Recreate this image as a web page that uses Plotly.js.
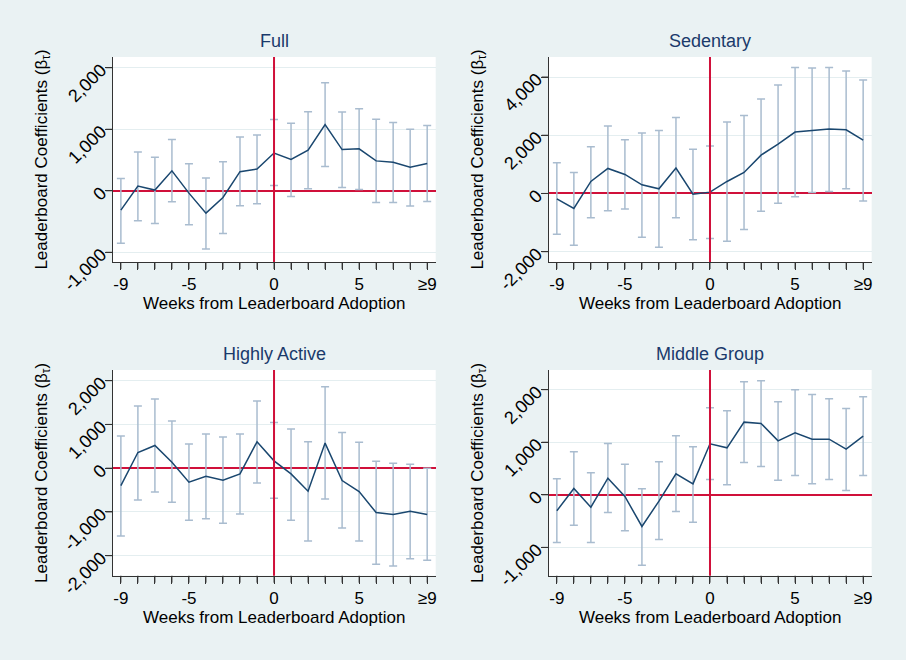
<!DOCTYPE html>
<html>
<head>
<meta charset="utf-8">
<script src="https://cdn.plot.ly/plotly-3.0.1.min.js"></script>
<style>
  body { margin: 0; background: #eaf2f3; }
  #chart { width: 906px; height: 660px; }
  .modebar-container { display: none; }
</style>
</head>
<body>
<div id="chart"></div>
<script>
// weeks relative to leaderboard adoption (9 means >= 9)
let weeks = [-9, -8, -7, -6, -5, -4, -3, -2, -1, 0, 1, 2, 3, 4, 5, 6, 7, 8, 9];
let weekLabels = ['-9', '', '', '', '-5', '', '', '', '', '0', '', '', '', '', '5', '', '', '', '\u22659'];

// Full
let fullCoef = [-314, 76, 11, 324, -38, -364, -109, 310, 353, 614, 508, 659, 1076, 670, 681, 486, 465, 384, 443];
let fullLow = [-854, -486, -530, -178, -554, -946, -696, -245, -212, 87, -92, 32, 395, 54, 22, -189, -189, -249, -173];
let fullHigh = [200, 632, 546, 832, 440, 207, 473, 875, 908, 1158, 1097, 1286, 1757, 1281, 1335, 1162, 1108, 1000, 1059];

// Sedentary
let sedCoef = [-183, -515, 412, 859, 653, 298, 160, 871, -23, 46, 412, 722, 1317, 1695, 2108, 2165, 2211, 2188, 1833];
let sedLow = [-1397, -1775, -836, -596, -538, -1500, -1844, -836, -1592, -1546, -1638, -1237, -607, -332, -115, 34, 69, 160, -263];
let sedHigh = [1054, 722, 1604, 2314, 1844, 2073, 2165, 2612, 1523, 1627, 2451, 2680, 3242, 3723, 4330, 4307, 4330, 4204, 3895];

// Highly Active
let highCoef = [-397, 359, 519, 137, -321, -183, -275, -130, 603, 168, -130, -527, 573, -282, -534, -1015, -1061, -985, -1061];
let highLow = [-1550, -725, -542, -779, -1191, -1153, -1260, -1046, -336, -687, -1191, -1664, -702, -1366, -1664, -2198, -2237, -2069, -2107];
let highHigh = [733, 1420, 1580, 1076, 550, 779, 710, 779, 1534, 1046, 893, 603, 1863, 817, 595, 160, 115, 92, 0];

// Middle Group
let midCoef = [-304, 120, -235, 317, -32, -602, -120, 400, 209, 970, 894, 1382, 1357, 1027, 1179, 1059, 1059, 869, 1116];
let midLow = [-907, -577, -907, -336, -685, -1338, -850, -317, -520, 292, 190, 615, 539, 279, 368, 209, 292, 82, 368];
let midHigh = [304, 818, 419, 977, 583, 114, 628, 1122, 913, 1655, 1598, 2150, 2169, 1769, 2000, 1909, 1826, 1642, 1864];

let panelTitles = ['Full', 'Sedentary', 'Highly Active', 'Middle Group'];
let yTicks = [
    [-1000, 0, 1000, 2000],
    [-2000, 0, 2000, 4000],
    [-2000, -1000, 0, 1000, 2000],
    [-1000, 0, 1000, 2000]
];
let yRanges = [[-1158, 2174], [-2355, 4687], [-2458, 2244], [-1539, 2374]];

let lineColor = '#1a476f';
let ciColor = '#a9bccf';
let refColor = '#d0103a';
let axisColor = '#333333';
let font = 'Liberation Sans, Arial, sans-serif';

let series = [
    [fullCoef, fullLow, fullHigh],
    [sedCoef, sedLow, sedHigh],
    [highCoef, highLow, highHigh],
    [midCoef, midLow, midHigh]
];

let xDomains = [[0.1244, 0.4809], [0.6056, 0.9621], [0.1244, 0.4809], [0.6056, 0.9621]];
let yDomains = [[0.603, 0.9136], [0.603, 0.9136], [0.1277, 0.4394], [0.1277, 0.4394]];

function fmt(v) {
    let s = Math.abs(v).toLocaleString('en-US');
    return v < 0 ? '-' + s : s;
}

let data = [];
let layout = {
    width: 906,
    height: 660,
    margin: {l: 0, r: 0, t: 0, b: 0},
    paper_bgcolor: '#eaf2f3',
    plot_bgcolor: '#ffffff',
    showlegend: false,
    font: {family: font, size: 17, color: '#000000'},
    annotations: [],
    shapes: []
};

series.forEach(function(s, i) {
    let n = i === 0 ? '' : String(i + 1);
    let coef = s[0], low = s[1], high = s[2];
    data.push({
        x: weeks,
        y: coef,
        type: 'scatter',
        mode: 'lines',
        xaxis: 'x' + n,
        yaxis: 'y' + n,
        line: {color: lineColor, width: 1.5},
        error_y: {
            type: 'data',
            symmetric: false,
            array: high.map(function(h, k) { return h - coef[k]; }),
            arrayminus: coef.map(function(c, k) { return c - low[k]; }),
            color: ciColor,
            thickness: 1.5,
            width: 4
        },
        hoverinfo: 'x+y'
    });

    layout['xaxis' + n] = {
        domain: xDomains[i],
        anchor: 'y' + n,
        range: [-9.48, 9.5],
        tickmode: 'array',
        tickvals: weeks,
        ticktext: weekLabels,
        ticks: 'outside',
        ticklen: 7,
        tickcolor: axisColor,
        showline: true,
        linecolor: axisColor,
        showgrid: false,
        zeroline: false,
        tickfont: {size: 17, color: '#000000'},
        title: {text: 'Weeks from Leaderboard Adoption', font: {size: 17}, standoff: 2}
    };
    layout['yaxis' + n] = {
        domain: yDomains[i],
        anchor: 'x' + n,
        range: yRanges[i],
        tickmode: 'array',
        tickvals: yTicks[i],
        ticktext: yTicks[i].map(fmt),
        tickangle: -45,
        ticks: 'outside',
        ticklen: 7,
        tickcolor: axisColor,
        showline: true,
        linecolor: axisColor,
        showgrid: true,
        gridcolor: '#e4eef0',
        zeroline: true,
        zerolinecolor: refColor,
        zerolinewidth: 2,
        tickfont: {size: 18, color: '#000000'},
        title: {text: 'Leaderboard Coefficients (\u03b2<sub>\u03c4</sub>)', font: {size: 17}, standoff: 8}
    };

    layout.annotations.push({
        text: panelTitles[i],
        xref: 'paper',
        yref: 'paper',
        x: (xDomains[i][0] + xDomains[i][1]) / 2,
        y: yDomains[i][1],
        xanchor: 'center',
        yanchor: 'bottom',
        yshift: 4,
        showarrow: false,
        font: {size: 18, color: '#1a3a6b'}
    });

    // tick marks, drawn as shapes so they always show
    let panelH = (yDomains[i][1] - yDomains[i][0]) * 660;
    let panelW = (xDomains[i][1] - xDomains[i][0]) * 906;
    weeks.forEach(function(w) {
        layout.shapes.push({
            type: 'line', xref: 'x' + n, yref: 'y' + n + ' domain',
            x0: w, x1: w, y0: 0, y1: -7 / panelH,
            line: {color: axisColor, width: 1}, layer: 'above'
        });
    });
    yTicks[i].forEach(function(v) {
        layout.shapes.push({
            type: 'line', xref: 'x' + n + ' domain', yref: 'y' + n,
            x0: 0, x1: -7 / panelW, y0: v, y1: v,
            line: {color: axisColor, width: 1}, layer: 'above'
        });
    });

    // vertical reference line at adoption week
    layout.shapes.push({
        type: 'line', xref: 'x' + n, yref: 'y' + n + ' domain',
        x0: 0, x1: 0, y0: 0, y1: 1,
        line: {color: refColor, width: 2}, layer: 'above'
    });
});

Plotly.newPlot('chart', data, layout);
</script>
</body>
</html>
